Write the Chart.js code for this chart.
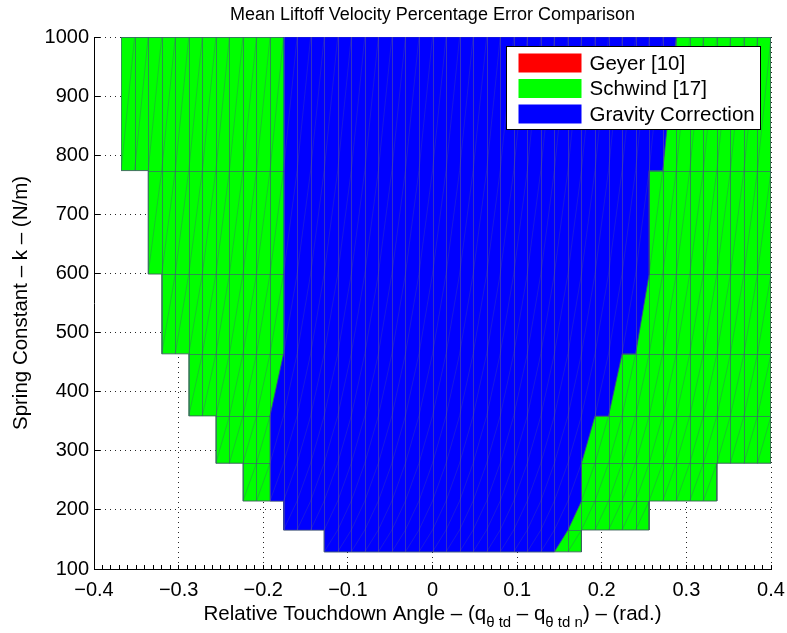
<!DOCTYPE html>
<html>
<head>
<meta charset="utf-8">
<script src="https://cdn.jsdelivr.net/npm/chart.js@4.4.0/dist/chart.umd.min.js"></script>
<style>
  html, body { margin: 0; padding: 0; background: #fff; }
  #wrap { width: 787px; height: 633px; }
</style>
</head>
<body>
<div id="wrap"><canvas id="mycanvas"></canvas></div>
<script>
var seriesNames = ['Geyer [10]', 'Schwind [17]', 'Gravity Correction'];
var seriesColors = ['#ff0000', '#00ff00', '#0000ff'];

// Geyer region is fully hidden under the other two in the figure
var geyerAngle = [];
var geyerK = [];

// region outlines: touchdown angle (rad.) and spring constant (N/m)
var schwindAngle = [-0.368, 0.4, 0.4, 0.336, 0.336, 0.256, 0.256, 0.176, 0.176, -0.128, -0.128, -0.176,
  -0.176, -0.224, -0.224, -0.256, -0.256, -0.288, -0.288, -0.32, -0.32, -0.336, -0.336, -0.368];
var schwindK = [1000, 1000, 279, 279, 215, 215, 166, 166, 129, 129, 166, 166,
  215, 215, 279, 279, 359, 359, 464, 464, 599, 599, 774, 774];

var gravityAngle = [-0.176, 0.288, 0.272, 0.256, 0.256, 0.24, 0.224, 0.208, 0.192, 0.176, 0.176, 0.16,
  0.144, -0.128, -0.128, -0.176, -0.176, -0.192, -0.192, -0.176];
var gravityK = [1000, 1000, 774, 774, 599, 464, 464, 359, 359, 279, 215, 166,
  129, 129, 166, 166, 215, 215, 359, 464];

// spring constant levels of the sweep (rows of the patch mesh)
var kGrid = [129, 166, 215, 279, 359, 464, 599, 774, 1000];

var xMajorTicks = [-0.4, -0.3, -0.2, -0.1, 0, 0.1, 0.2, 0.3, 0.4];
var yTicks = [100, 200, 300, 400, 500, 600, 700, 800, 900, 1000];

var titleText = 'Mean Liftoff Velocity Percentage Error Comparison';
var yTitle = 'Spring Constant \u2013 k \u2013 (N/m)';
// x label pieces, true = subscript
var xTitleParts = [
  ['Relative Touchdown Angle \u2013 (q', false],
  ['\u03b8 td', true],
  [' \u2013 q', false],
  ['\u03b8 td n', true],
  [') \u2013 (rad.)', false]
];

var fontName = '"Liberation Sans", Arial, Helvetica, sans-serif';

// mesh columns of the angle sweep, every 0.016 rad (only used for the cell edges)
var meshAngles = [];
for (var j = 0; j <= 50; j++) meshAngles.push(-0.4 + j * 0.016);

function toPoints(xs, ys) {
  var pts = [];
  for (var i = 0; i < xs.length; i++) pts.push({x: xs[i], y: ys[i]});
  return pts;
}

function isMajor(v) {
  for (var i = 0; i < xMajorTicks.length; i++) {
    if (Math.abs(v - xMajorTicks[i]) < 1e-6) return xMajorTicks[i];
  }
  return null;
}

function fmt(v) {
  if (v === 0) return '0';
  var s = String(Math.abs(v));
  return v < 0 ? '\u2212' + s : s;
}

// cell edges drawn inside each region, like the patch edges in the figure
var meshPlugin = {
  id: 'patchMesh',
  afterDatasetDraw: function(chart, args) {
    var pts = args.meta.data;
    var ds = chart.data.datasets[args.index];
    if (!pts.length || !ds.meshColor) return;
    var xs = chart.scales.x, ys = chart.scales.y, area = chart.chartArea;
    var c = chart.ctx;
    c.save();
    c.beginPath();
    pts.forEach(function(p, i) { if (i) c.lineTo(p.x, p.y); else c.moveTo(p.x, p.y); });
    c.closePath();
    c.clip();
    c.lineWidth = 1;

    c.strokeStyle = ds.diagColor;
    c.beginPath();
    for (var r = 0; r < kGrid.length - 1; r++) {
      var y0 = ys.getPixelForValue(kGrid[r]), y1 = ys.getPixelForValue(kGrid[r + 1]);
      for (var q = 0; q < meshAngles.length - 1; q++) {
        c.moveTo(xs.getPixelForValue(meshAngles[q]), y0);
        c.lineTo(xs.getPixelForValue(meshAngles[q + 1]), y1);
      }
    }
    c.stroke();

    c.strokeStyle = ds.meshColor;
    c.beginPath();
    meshAngles.forEach(function(a) {
      var px = Math.round(xs.getPixelForValue(a)) + 0.5;
      c.moveTo(px, area.top);
      c.lineTo(px, area.bottom);
    });
    if (ds.meshRows) {
      kGrid.forEach(function(k) {
        var py = Math.round(ys.getPixelForValue(k)) + 0.5;
        c.moveTo(area.left, py);
        c.lineTo(area.right, py);
      });
    }
    c.stroke();
    c.restore();
  }
};

var labelPlugin = {
  id: 'matlabLabels',
  afterDraw: function(chart) {
    var ctx = chart.ctx;
    var area = chart.chartArea;
    ctx.save();
    ctx.fillStyle = '#000';

    // x axis label with subscripts
    var big = '20.5px ' + fontName, small = '15px ' + fontName;
    var total = 0;
    xTitleParts.forEach(function(p) {
      ctx.font = p[1] ? small : big;
      total += ctx.measureText(p[0]).width;
    });
    var x = (area.left + area.right) / 2 - total / 2;
    ctx.textBaseline = 'alphabetic';
    ctx.textAlign = 'left';
    xTitleParts.forEach(function(p) {
      ctx.font = p[1] ? small : big;
      ctx.fillText(p[0], x, p[1] ? 627 : 620);
      x += ctx.measureText(p[0]).width;
    });

    // y axis label
    ctx.save();
    ctx.font = big;
    ctx.translate(21, (area.top + area.bottom) / 2);
    ctx.rotate(-Math.PI / 2);
    ctx.textAlign = 'center';
    ctx.textBaseline = 'middle';
    ctx.fillText(yTitle, 0, 0);
    ctx.restore();

    // legend box, top right inside the axes
    var bx = area.right - 264.5, by = area.top + 9.5, bw = 254, bh = 83;
    ctx.fillStyle = '#fff';
    ctx.fillRect(bx, by, bw, bh);
    ctx.strokeStyle = '#000';
    ctx.lineWidth = 1;
    ctx.strokeRect(bx, by, bw, bh);
    ctx.font = big;
    ctx.textBaseline = 'middle';
    chart.data.datasets.forEach(function(ds, i) {
      var cy = by + 16.5 + i * 25.5;
      ctx.fillStyle = ds.backgroundColor;
      ctx.fillRect(bx + 12, cy - 9.5, 63, 19);
      ctx.fillStyle = '#000';
      ctx.fillText(ds.label, bx + 83, cy + 1);
    });
    ctx.restore();
  }
};

var chartdata = {
  datasets: [
    {
      label: seriesNames[0],
      data: toPoints(geyerAngle, geyerK),
      backgroundColor: seriesColors[0],
      borderColor: 'rgba(90,40,40,0.8)',
      borderWidth: 1,
      fill: 'shape',
      pointRadius: 0,
      order: 2
    },
    {
      label: seriesNames[1],
      data: toPoints(schwindAngle, schwindK),
      backgroundColor: seriesColors[1],
      borderColor: 'rgba(60,100,90,0.9)',
      borderWidth: 1,
      fill: 'shape',
      pointRadius: 0,
      order: 1,
      meshRows: true,
      meshColor: 'rgba(60,100,110,0.7)',
      diagColor: 'rgba(60,100,110,0.35)'
    },
    {
      label: seriesNames[2],
      data: toPoints(gravityAngle, gravityK),
      backgroundColor: seriesColors[2],
      borderColor: 'rgba(60,60,150,0.6)',
      borderWidth: 1,
      fill: 'shape',
      pointRadius: 0,
      order: 0,
      meshRows: false,
      meshColor: 'rgba(110,110,120,0.45)',
      diagColor: 'rgba(110,110,120,0.22)'
    }
  ]
};

var ctx = document.getElementById('mycanvas');

var areaChart = new Chart(ctx, {
  type: 'line',
  data: chartdata,
  plugins: [meshPlugin, labelPlugin],
  options: {
    responsive: true,
    maintainAspectRatio: false,
    animation: false,
    layout: { padding: { left: 0, right: 16, top: 0, bottom: 0 } },
    elements: { line: { tension: 0 } },
    plugins: {
      legend: { display: false },
      tooltip: { enabled: false },
      title: {
        display: true,
        text: titleText,
        fullSize: false,
        color: '#000',
        font: { family: fontName, size: 18, weight: 'normal' },
        padding: { top: 4, bottom: 11.4 }
      }
    },
    scales: {
      x: {
        type: 'linear',
        min: -0.4,
        max: 0.4,
        afterFit: function(s) { s.height = 64; s.paddingRight = 0; s.paddingLeft = 0; },
        ticks: {
          stepSize: 0.01,
          autoSkip: false,
          maxRotation: 0,
          padding: 13,
          color: '#000',
          font: { family: fontName, size: 20 },
          callback: function(v) {
            var m = isMajor(v);
            return m === null ? '' : fmt(m);
          }
        },
        grid: {
          color: function(c) {
            return c.tick && isMajor(c.tick.value) !== null ? 'rgba(0,0,0,0.85)' : 'rgba(0,0,0,0)';
          },
          tickColor: '#000',
          tickLength: -4,
          lineWidth: 1
        },
        border: { display: true, color: '#000', width: 1, dash: [1, 4] }
      },
      y: {
        type: 'linear',
        min: 100,
        max: 1000,
        afterFit: function(s) { s.width = 94; },
        afterBuildTicks: function(s) {
          s.ticks = yTicks.map(function(v) { return {value: v}; });
        },
        ticks: {
          padding: 11,
          color: '#000',
          font: { family: fontName, size: 20 },
          callback: function(v) { return String(v); }
        },
        grid: {
          color: 'rgba(0,0,0,0.85)',
          tickColor: '#000',
          tickLength: -6,
          lineWidth: 1
        },
        border: { display: true, color: '#000', width: 1, dash: [1, 4] }
      }
    }
  }
});
</script>
</body>
</html>
